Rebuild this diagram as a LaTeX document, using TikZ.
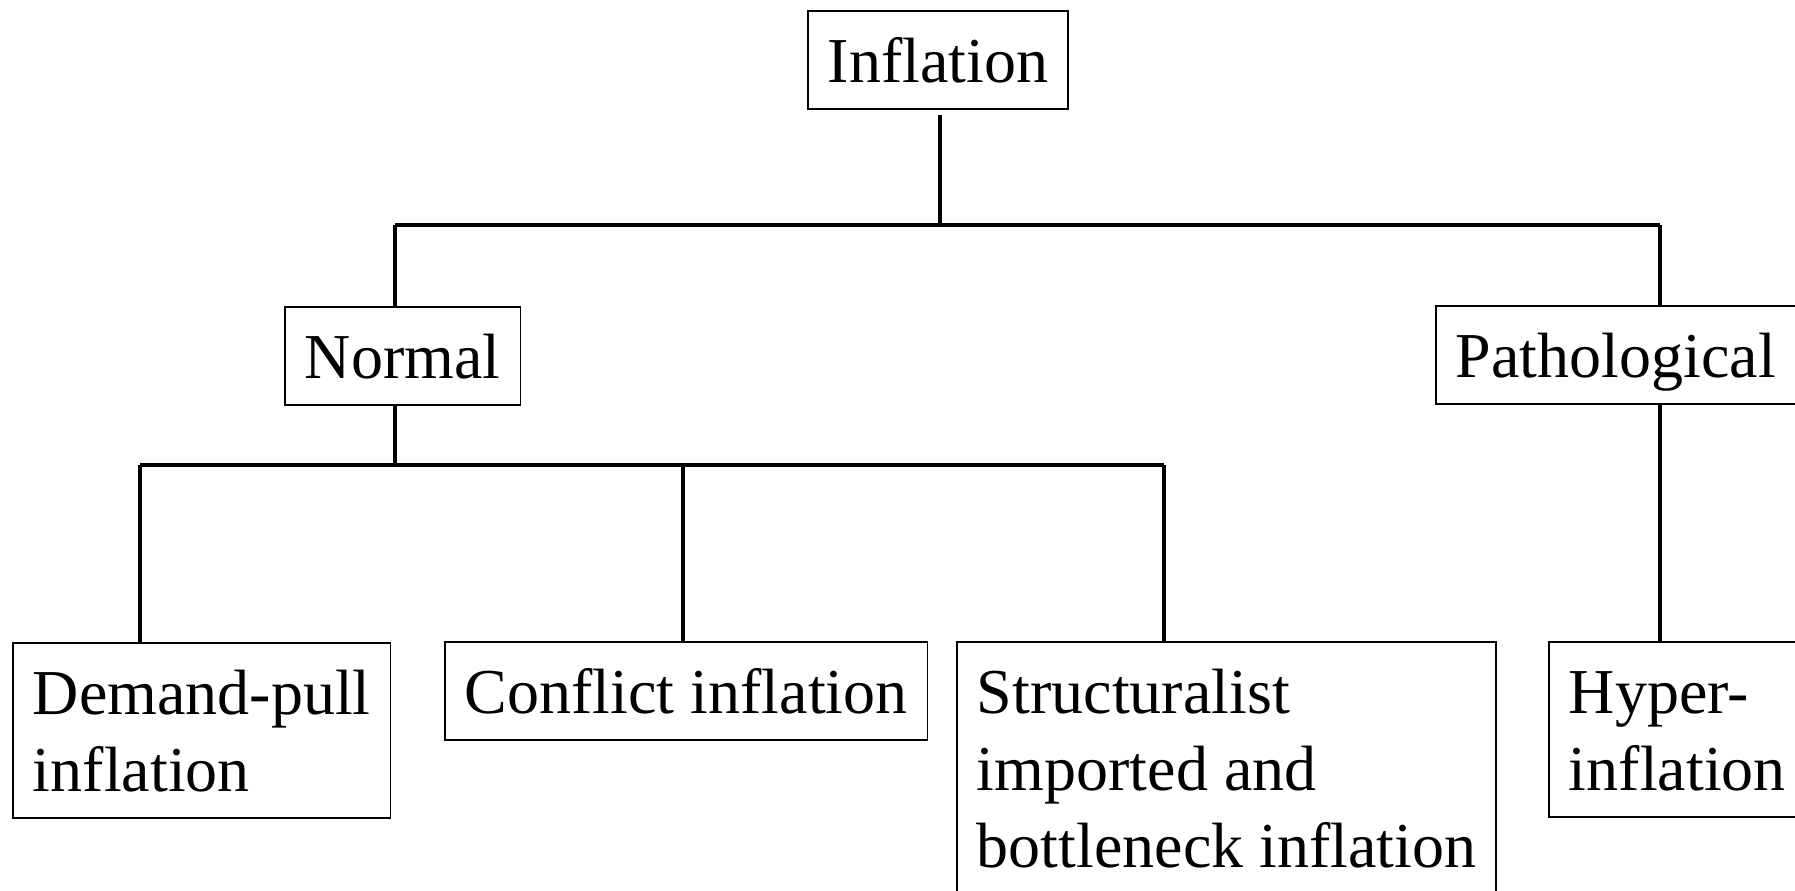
\documentclass[tikz,border=0pt]{standalone}
\usepackage{fontspec}
\setmainfont{Liberation Serif}
\newcommand\lstrut{\rule[-6.8pt]{0pt}{36pt}}
\begin{document}
\begin{tikzpicture}[x=0.5pt,y=-0.5pt,
  box/.style={draw, line width=0.9pt, anchor=north west, align=left,
    inner xsep=10pt, inner ysep=6.5pt,
    font=\fontsize{32}{38.5}\selectfont},
  conn/.style={line width=1.6pt}]
\useasboundingbox (0,0) rectangle (1795,890);
\clip (0,0) rectangle (1795,890);
\node[box] (inf)  at (807,10)  {\lstrut Inflation};
\node[box] (norm) at (284,306) {\lstrut Normal};
\node[box] (path) at (1435,305) {\lstrut Pathological};
\node[box] (dem)  at (12,642)  {\lstrut Demand-pull\\\lstrut inflation};
\node[box] (conf) at (444,641) {\lstrut Conflict inflation};
\node[box] (str)  at (956,641) {\lstrut Structuralist\\\lstrut imported and\\\lstrut bottleneck inflation};
\node[box] (hyp)  at (1548,641) {\lstrut Hyper-\\\lstrut inflation};
% junctions
\coordinate (t)  at (940,225);
\coordinate (tl) at (395,225);
\coordinate (tr) at (1660,225);
\coordinate (m)  at (395,465);
\coordinate (ml) at (140,465);
\coordinate (mc) at (683,465);
\coordinate (mr) at (1164,465);
\draw[conn] ([yshift=-2.5pt]inf.south -| t) -- (t);
\draw[conn] (tl) -- (tr);
\draw[conn] (tl) -- (tl |- norm.north);
\draw[conn] (tr) -- (tr |- path.north);
\draw[conn] (m |- norm.south) -- (m);
\draw[conn] (ml) -- (mr);
\draw[conn] (ml) -- (ml |- dem.north);
\draw[conn] (mc) -- (mc |- conf.north);
\draw[conn] (mr) -- (mr |- str.north);
\draw[conn] (tr |- path.south) -- (tr |- hyp.north);
\end{tikzpicture}
\end{document}
